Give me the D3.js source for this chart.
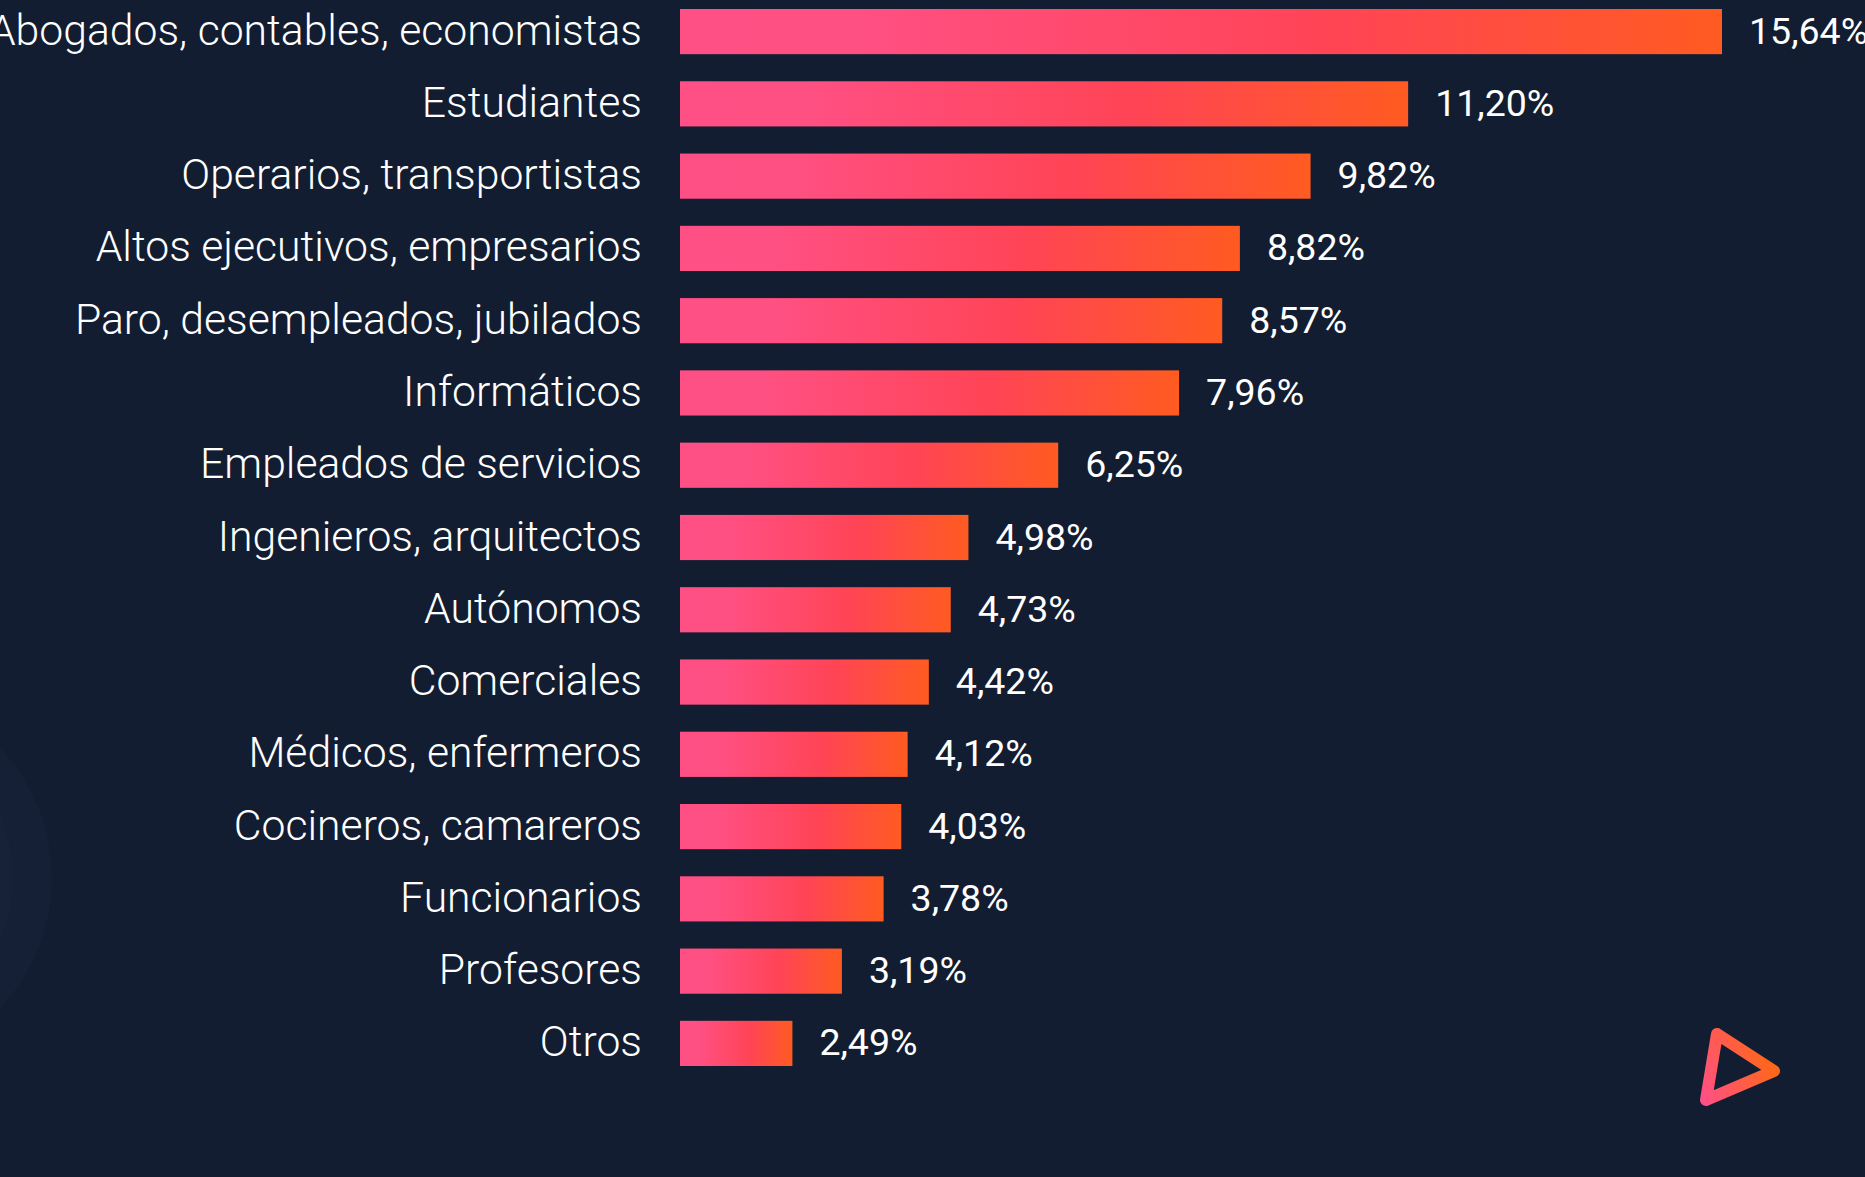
<!DOCTYPE html>
<html>
<head>
<meta charset="utf-8">
<script src="https://cdn.jsdelivr.net/npm/d3@7"></script>
<style>
  body { margin: 0; background: #131d31; overflow: hidden; }
  svg { display: block; }
</style>
</head>
<body>
<div id="chart"></div>
<script>
// categories, top to bottom
var categories = [
  "Abogados, contables, economistas",
  "Estudiantes",
  "Operarios, transportistas",
  "Altos ejecutivos, empresarios",
  "Paro, desempleados, jubilados",
  "Informáticos",
  "Empleados de servicios",
  "Ingenieros, arquitectos",
  "Autónomos",
  "Comerciales",
  "Médicos, enfermeros",
  "Cocineros, camareros",
  "Funcionarios",
  "Profesores",
  "Otros"
];
// share in percent
var values = [15.64, 11.20, 9.82, 8.82, 8.57, 7.96, 6.25, 4.98, 4.73, 4.42, 4.12, 4.03, 3.78, 3.19, 2.49];

var w = 1865;
var h = 1177;

var svg = d3.select("#chart")
  .append("svg")
  .attr("width", w)
  .attr("height", h);

var defs = svg.append("defs");

// bar gradient (each bar gets its own span, pink -> red -> orange)
var grad = defs.append("linearGradient")
  .attr("id", "barGrad")
  .attr("x1", "0%").attr("x2", "100%")
  .attr("y1", "0%").attr("y2", "0%");
grad.append("stop").attr("offset", "0%").attr("stop-color", "#ff5086");
grad.append("stop").attr("offset", "17%").attr("stop-color", "#ff5083");
grad.append("stop").attr("offset", "62%").attr("stop-color", "#ff4456");
grad.append("stop").attr("offset", "100%").attr("stop-color", "#ff5b21");

var logoGrad = defs.append("linearGradient")
  .attr("id", "logoGrad")
  .attr("gradientUnits", "userSpaceOnUse")
  .attr("x1", 1700).attr("y1", 1100)
  .attr("x2", 1782).attr("y2", 1062);
logoGrad.append("stop").attr("offset", "0%").attr("stop-color", "#ff4f8a");
logoGrad.append("stop").attr("offset", "100%").attr("stop-color", "#ff6a0c");

// faint background circles on the left edge
svg.append("circle")
  .attr("cx", -139).attr("cy", 878).attr("r", 191)
  .attr("fill", "#151f35");
svg.append("circle")
  .attr("cx", -150).attr("cy", 878).attr("r", 163)
  .attr("fill", "#172239");

var x = d3.scaleLinear()
  .domain([0.9, 15.64])
  .range([680, 1722]);

var y = d3.scaleBand()
  .domain(categories)
  .range([9, 1066])
  .paddingInner(0.375)
  .paddingOuter(0);

var fmt = d3.formatLocale({decimal: ",", thousands: ".", grouping: [3], currency: ["", "€"]}).format(".2f");

var rows = svg.selectAll("g.row")
  .data(categories)
  .enter()
  .append("g")
  .attr("class", "row");

rows.append("rect")
  .attr("x", x.range()[0])
  .attr("y", function(d) { return y(d); })
  .attr("width", function(d, i) { return x(values[i]) - x.range()[0]; })
  .attr("height", y.bandwidth())
  .attr("fill", "url(#barGrad)");

rows.append("text")
  .attr("x", 642)
  .attr("y", function(d) { return y(d) + y.bandwidth() / 2 + 13; })
  .attr("text-anchor", "end")
  .style("font-family", "Roboto, sans-serif")
  .style("font-weight", 300)
  .style("font-size", "42.7px")
  .style("fill", "#ffffff")
  .text(function(d) { return d; });

rows.append("text")
  .attr("x", function(d, i) { return x(values[i]) + 27; })
  .attr("y", function(d) { return y(d) + y.bandwidth() / 2 + 12; })
  .style("font-family", "Roboto, sans-serif")
  .style("font-weight", 400)
  .style("font-size", "37.5px")
  .style("fill", "#ffffff")
  .text(function(d, i) { return fmt(values[i]) + "%"; });

// play-style logo, bottom right
svg.append("path")
  .attr("d", "M1717,1034 L1774,1071 L1706,1100 Z")
  .attr("fill", "none")
  .attr("stroke", "url(#logoGrad)")
  .attr("stroke-width", 12)
  .attr("stroke-linejoin", "round");
</script>
</body>
</html>
